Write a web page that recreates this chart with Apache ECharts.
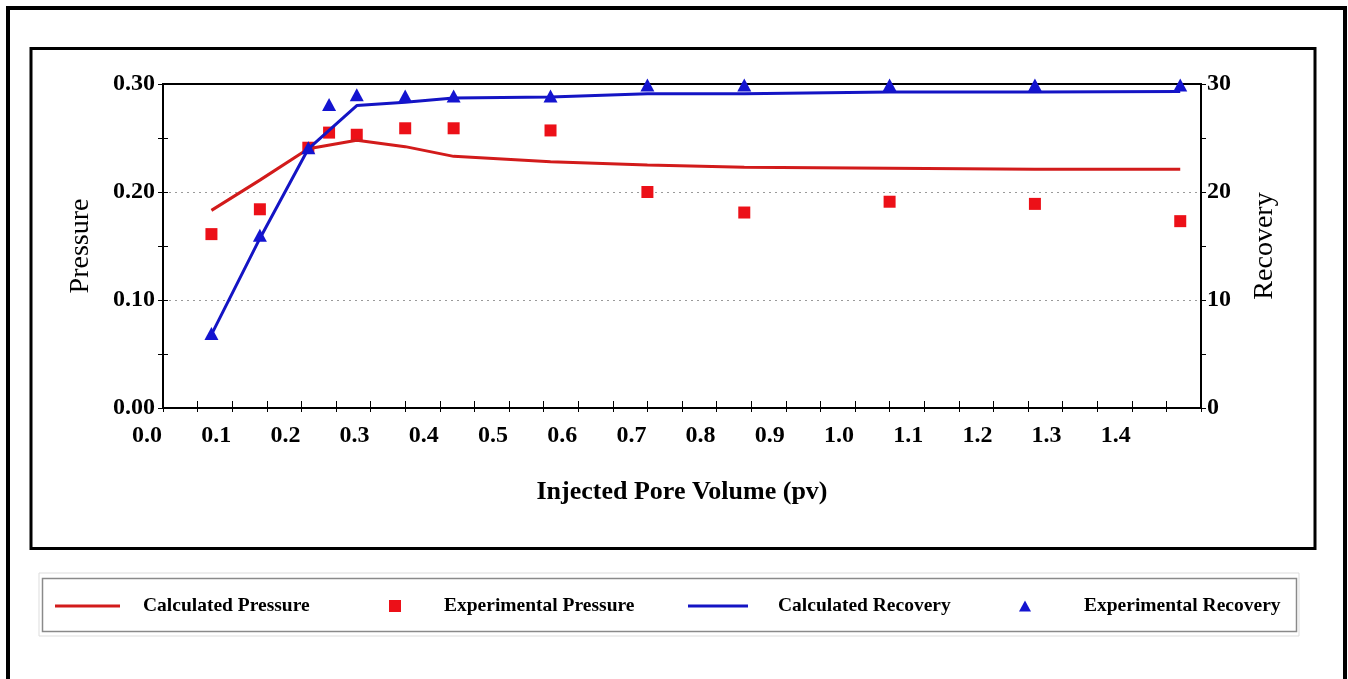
<!DOCTYPE html>
<html>
<head>
<meta charset="utf-8">
<script src="https://cdn.jsdelivr.net/npm/echarts@6/dist/echarts.min.js"></script>
<style>
  html, body { margin: 0; padding: 0; background: #ffffff; }
  #chart { width: 1348px; height: 679px; }
</style>
</head>
<body>
<div id="chart"></div>
<script>
// Injected pore volume at each measured point
const pvMeasured = [0.07, 0.14, 0.21, 0.24, 0.28, 0.35, 0.42, 0.56, 0.70, 0.84, 1.05, 1.26, 1.47];
const pressureMeasured = [0.161, 0.184, 0.241, 0.255, 0.253, 0.259, 0.259, 0.257, 0.200, 0.181, 0.191, 0.189, 0.173];
const recoveryMeasured = [6.9, 16.0, 24.1, 28.1, 29.0, 28.9, 28.9, 28.9, 29.9, 29.9, 29.9, 29.9, 29.9];

// Simulator output
const pvModel = [0.07, 0.14, 0.21, 0.28, 0.35, 0.42, 0.56, 0.70, 0.84, 1.05, 1.26, 1.47];
const pressureModel = [0.183, 0.211, 0.240, 0.248, 0.242, 0.233, 0.228, 0.225, 0.223, 0.222, 0.221, 0.221];
const recoveryModel = [6.8, 15.7, 24.0, 28.0, 28.3, 28.7, 28.8, 29.1, 29.1, 29.25, 29.25, 29.3];

const seriesNames = ['Calculated Pressure', 'Experimental Pressure', 'Calculated Recovery', 'Experimental Recovery'];
const xTitle = 'Injected Pore Volume (pv)';
const leftTitle = 'Pressure';
const rightTitle = 'Recovery';

const FONT = '"Liberation Serif", "DejaVu Serif", serif';
const RED_LINE = '#d21b1b';
const RED_MARK = '#ec1018';
const BLUE_LINE = '#1414c4';
const BLUE_MARK = '#1414d0';

const zip = (xs, ys) => xs.map((x, i) => [x, ys[i]]);

const labelStyle = { fontFamily: FONT, fontWeight: 'bold', fontSize: 24, color: '#000' };
const tickLine = { color: '#000', width: 1 };

const chart = echarts.init(document.getElementById('chart'), null, { renderer: 'canvas' });

function legendItem(name, icon, left, iconW, iconH, gap) {
  return {
    data: [icon ? { name: name, icon: icon } : name],
    left: left,
    top: 596,
    padding: 0,
    itemWidth: iconW,
    itemHeight: iconH,
    selectedMode: false,
    textStyle: { fontFamily: FONT, fontWeight: 'bold', fontSize: 19.5, color: '#000', padding: [0, 0, 0, gap] }
  };
}

chart.setOption({
  animation: false,
  backgroundColor: '#ffffff',
  grid: {
    left: 163, right: 147, top: 84, bottom: 271,
    show: true, borderColor: '#000', borderWidth: 2, backgroundColor: 'transparent'
  },
  graphic: [
    { type: 'rect', shape: { x: 8, y: 8, width: 1337, height: 700 },
      style: { fill: 'none', stroke: '#000', lineWidth: 4 }, silent: true },
    { type: 'rect', shape: { x: 31, y: 48.5, width: 1284, height: 500 },
      style: { fill: 'none', stroke: '#000', lineWidth: 3 }, silent: true },
    { type: 'rect', shape: { x: 39, y: 573, width: 1260, height: 63 },
      style: { fill: 'none', stroke: '#dddddd', lineWidth: 1 }, silent: true },
    { type: 'rect', shape: { x: 42.5, y: 578.5, width: 1254, height: 53 },
      style: { fill: 'none', stroke: '#8a8a8a', lineWidth: 1.5 }, silent: true }
  ],
  legend: [
    legendItem(seriesNames[0], 'rect', 55, 65, 3, 18),
    legendItem(seriesNames[1], null, 389, 12, 12, 38),
    legendItem(seriesNames[2], 'rect', 688, 60, 3, 25),
    legendItem(seriesNames[3], null, 1019, 12, 11, 48)
  ],
  xAxis: [
    {
      type: 'value', min: 0, max: 1.5, interval: 0.1,
      name: xTitle, nameLocation: 'middle', nameGap: 71,
      nameTextStyle: { fontFamily: FONT, fontWeight: 'bold', fontSize: 26, color: '#000' },
      axisLine: { show: true, onZero: false, lineStyle: { color: '#000', width: 2 } },
      axisTick: { show: true, inside: false, length: 4, lineStyle: tickLine },
      minorTick: { show: true, splitNumber: 2, length: 4, lineStyle: tickLine },
      axisLabel: Object.assign({ showMaxLabel: false, margin: 16, padding: [0, 32, 0, 0],
        formatter: v => v.toFixed(1) }, labelStyle),
      splitLine: { show: false }
    },
    {
      type: 'value', min: 0, max: 1.5, interval: 0.1, position: 'bottom',
      axisLine: { show: false },
      axisTick: { show: true, inside: true, length: 7, lineStyle: tickLine },
      minorTick: { show: true, splitNumber: 2, length: 7, lineStyle: tickLine },
      axisLabel: { show: false },
      splitLine: { show: false }
    }
  ],
  yAxis: [
    {
      type: 'value', min: 0, max: 0.3, interval: 0.1, position: 'left',
      name: leftTitle, nameLocation: 'middle', nameGap: 68, nameRotate: 90,
      nameTextStyle: { fontFamily: FONT, fontWeight: 'normal', fontSize: 28, color: '#000' },
      axisLine: { show: true, onZero: false, lineStyle: { color: '#000', width: 2 } },
      axisTick: { show: true, inside: false, length: 5, lineStyle: tickLine },
      minorTick: { show: true, splitNumber: 2, length: 5, lineStyle: tickLine },
      axisLabel: Object.assign({ margin: 8, formatter: v => v.toFixed(2) }, labelStyle),
      splitLine: { show: true, showMinLine: false, showMaxLine: false,
        lineStyle: { color: '#9a9a9a', width: 1, type: [2, 4] } }
    },
    {
      type: 'value', min: 0, max: 0.3, interval: 0.1, position: 'left',
      axisLine: { show: false },
      axisTick: { show: true, inside: true, length: 5, lineStyle: tickLine },
      minorTick: { show: true, splitNumber: 2, length: 5, lineStyle: tickLine },
      axisLabel: { show: false },
      splitLine: { show: false }
    },
    {
      type: 'value', min: 0, max: 30, interval: 10, position: 'right',
      name: rightTitle, nameLocation: 'middle', nameGap: 50, nameRotate: 90,
      nameTextStyle: { fontFamily: FONT, fontWeight: 'normal', fontSize: 28, color: '#000' },
      axisLine: { show: true, onZero: false, lineStyle: { color: '#000', width: 2 } },
      axisTick: { show: true, inside: false, length: 5, lineStyle: tickLine },
      minorTick: { show: true, splitNumber: 2, length: 5, lineStyle: tickLine },
      axisLabel: Object.assign({ margin: 6, formatter: v => String(v) }, labelStyle),
      splitLine: { show: false }
    },
    {
      type: 'value', min: 0, max: 30, interval: 10, position: 'right',
      axisLine: { show: false },
      axisTick: { show: true, inside: true, length: 5, lineStyle: tickLine },
      minorTick: { show: true, splitNumber: 2, length: 5, lineStyle: tickLine },
      axisLabel: { show: false },
      splitLine: { show: false }
    }
  ],
  series: [
    {
      name: seriesNames[0], type: 'line', xAxisIndex: 0, yAxisIndex: 0,
      data: zip(pvModel, pressureModel),
      symbol: 'none', lineStyle: { color: RED_LINE, width: 3 }, itemStyle: { color: RED_LINE }, z: 3
    },
    {
      name: seriesNames[1], type: 'scatter', xAxisIndex: 0, yAxisIndex: 0,
      data: zip(pvMeasured, pressureMeasured),
      symbol: 'rect', symbolSize: 12, clip: false,
      itemStyle: { color: RED_MARK, opacity: 1 }, z: 2
    },
    {
      name: seriesNames[2], type: 'line', xAxisIndex: 0, yAxisIndex: 2,
      data: zip(pvModel, recoveryModel),
      symbol: 'none', lineStyle: { color: BLUE_LINE, width: 3 }, itemStyle: { color: BLUE_LINE }, z: 3
    },
    {
      name: seriesNames[3], type: 'scatter', xAxisIndex: 0, yAxisIndex: 2,
      data: zip(pvMeasured, recoveryMeasured),
      symbol: 'triangle', symbolSize: [14, 13], clip: false,
      itemStyle: { color: BLUE_MARK, opacity: 1 }, z: 4
    }
  ]
});
</script>
</body>
</html>
